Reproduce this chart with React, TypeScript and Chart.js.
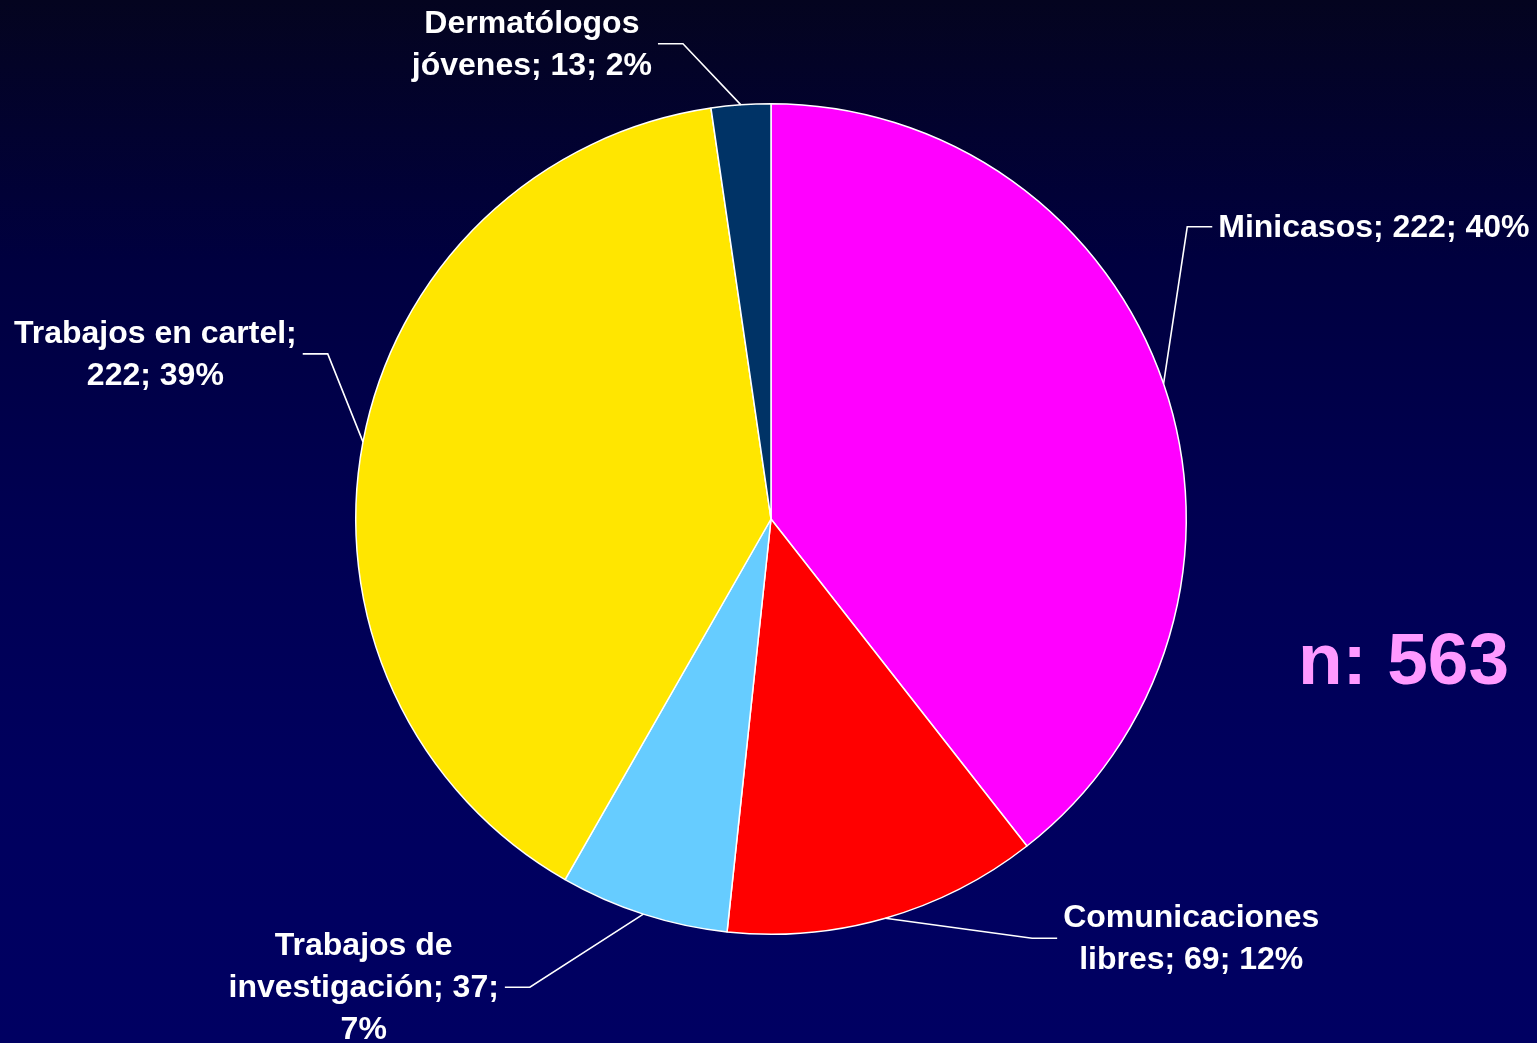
import React, { useEffect, useRef } from "react";
import { Chart, registerables } from "chart.js";

Chart.register(...registerables);

const categories = [
  "Minicasos",
  "Comunicaciones libres",
  "Trabajos de investigación",
  "Trabajos en cartel",
  "Dermatólogos jóvenes",
];
const values = [222, 69, 37, 222, 13];
const percents = [40, 12, 7, 39, 2];
const colors = ["#FF00FF", "#FF0000", "#66CCFF", "#FFE600", "#003366"];
const totalLabel = "n: 563";

// label placement: elbow offset relative to pie centre (in radius units), side of text, wrap width
const labelLayout = [
  { ex: 416 / 415, ey: -292 / 415, side: 1, maxW: 340 },
  { ex: 261 / 415, ey: 419 / 415, side: 1, maxW: 300 },
  { ex: -241 / 415, ey: 468 / 415, side: -1, maxW: 300 },
  { ex: -443 / 415, ey: -165 / 415, side: -1, maxW: 300 },
  { ex: -88 / 415, ey: -475 / 415, side: -1, maxW: 300 },
];

const FONT = "bold 32px 'Liberation Sans', Arial, sans-serif";

function wrap(ctx: CanvasRenderingContext2D, text: string, maxW: number): string[] {
  const words = text.split(" ");
  const lines: string[] = [];
  let cur = "";
  for (const w of words) {
    const t = cur ? cur + " " + w : w;
    if (cur && ctx.measureText(t).width > maxW) {
      lines.push(cur);
      cur = w;
    } else cur = t;
  }
  if (cur) lines.push(cur);
  return lines;
}

const labelPlugin = {
  id: "pieLabels",
  afterDraw(chart: any) {
    const ctx: CanvasRenderingContext2D = chart.ctx;
    const meta = chart.getDatasetMeta(0);
    ctx.save();
    ctx.font = FONT;
    ctx.fillStyle = "#FFFFFF";
    ctx.strokeStyle = "#FFFFFF";
    ctx.lineWidth = 1.6;
    ctx.textBaseline = "middle";
    ctx.textAlign = "center";
    const lh = 42;
    meta.data.forEach((arc: any, i: number) => {
      const { x, y, startAngle, endAngle, outerRadius } = arc.getProps(
        ["x", "y", "startAngle", "endAngle", "outerRadius"],
        true
      );
      const mid = (startAngle + endAngle) / 2;
      const L = labelLayout[i];
      const p0x = x + outerRadius * Math.cos(mid);
      const p0y = y + outerRadius * Math.sin(mid);
      const ex = x + L.ex * outerRadius;
      const ey = y + L.ey * outerRadius;
      const p2x = ex + L.side * 25;
      ctx.beginPath();
      ctx.moveTo(p0x, p0y);
      ctx.lineTo(ex, ey);
      ctx.lineTo(p2x, ey);
      ctx.stroke();
      const text = `${categories[i]}; ${values[i]}; ${percents[i]}%`;
      const lines = wrap(ctx, text, L.maxW);
      const bw = Math.max(...lines.map((l) => ctx.measureText(l).width));
      const cx = L.side > 0 ? p2x + 6 + bw / 2 : p2x - 6 - bw / 2;
      lines.forEach((ln, k) => {
        ctx.fillText(ln, cx, ey + (k - (lines.length - 1) / 2) * lh + 1);
      });
    });
    // total
    ctx.font = "bold 73px 'Liberation Sans', Arial, sans-serif";
    ctx.fillStyle = "#FF99FF";
    ctx.textAlign = "right";
    ctx.fillText(totalLabel, chart.width - 28, 664);
    ctx.restore();
  },
};

export default function App() {
  const ref = useRef<HTMLCanvasElement>(null);
  useEffect(() => {
    document.body.style.margin = "0";
    const chart = new Chart(ref.current!, {
      type: "pie",
      data: {
        labels: categories,
        datasets: [
          {
            data: values,
            backgroundColor: colors,
            borderColor: "#FFFFFF",
            borderWidth: 1.5,
            hoverOffset: 0,
          },
        ],
      },
      options: {
        responsive: false,
        animation: false,
        devicePixelRatio: 1,
        layout: { padding: { top: 103, bottom: 108, left: 355, right: 350 } },
        plugins: {
          legend: { display: false },
          tooltip: { enabled: false },
        },
      },
      plugins: [labelPlugin],
    });
    return () => chart.destroy();
  }, []);
  return (
    <div
      style={{
        position: "fixed",
        left: 0,
        top: 0,
        width: 1537,
        height: 1043,
        background:
          "linear-gradient(to bottom, #04041f 0%, #00003f 25%, #000052 50%, #00005e 75%, #000062 100%)",
      }}
    >
      <canvas ref={ref} width={1537} height={1043} style={{ display: "block" }} />
    </div>
  );
}
